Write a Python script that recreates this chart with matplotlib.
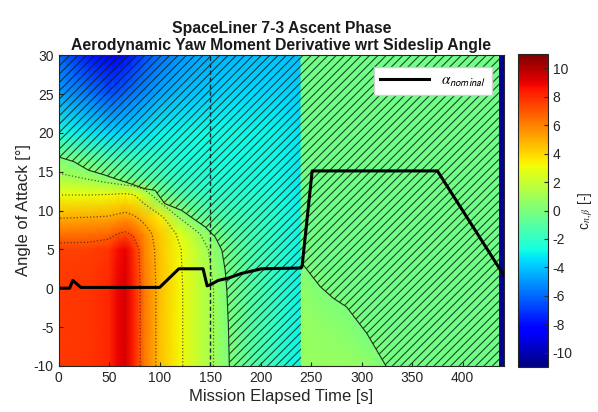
import numpy as np
import matplotlib
matplotlib.use("Agg")
import matplotlib.pyplot as plt
from matplotlib.colors import Normalize

# ---------------- data ----------------
# left part of the field (0 .. 240 s)
t_left = [0, 30, 50, 58, 66, 74, 85, 100, 120, 140, 155, 168, 190, 215, 240]
alpha_grid = [-10, 0, 5, 7, 9, 12, 14, 17, 20, 25, 30]
cn_left = [
    [7.7, 7.8, 8.1, 8.9, 9.3, 8.3, 6.2, 4.6, 3.2, 1.8, 0.9, 0.1, -1.0, -2.0, -3.0],   # -10
    [7.7, 7.8, 8.1, 8.9, 9.3, 8.3, 6.2, 4.6, 3.2, 1.8, 0.9, -0.15, -1.1, -2.0, -3.0],  # 0
    [7.5, 7.5, 7.8, 8.6, 9.0, 8.0, 6.0, 4.5, 3.1, 1.6, 0.5, -0.5, -1.3, -2.1, -3.0],  # 5
    [6.3, 6.4, 6.6, 7.0, 7.2, 6.8, 5.7, 4.3, 2.7, 1.0, -0.1, -0.9, -1.5, -2.2, -3.0], # 7
    [5.0, 5.1, 5.2, 5.4, 5.6, 5.3, 4.6, 3.6, 1.0, -0.5, -1.0, -1.4, -1.8, -2.3, -3.0],# 9
    [3.0, 3.0, 3.1, 3.2, 3.3, 3.1, 2.0, -0.1, -1.2, -1.8, -2.0, -2.1, -2.3, -2.6, -3.1],  # 12
    [1.4, 1.0, 0.4, 0.1, -0.3, -0.5, -1.0, -1.3, -2.0, -2.3, -2.4, -2.5, -2.6, -2.8, -3.2],  # 14
    [-0.1, -0.9, -1.5, -1.7, -1.8, -1.9, -2.0, -2.2, -2.5, -2.6, -2.7, -2.7, -2.8, -2.9, -3.2],  # 17
    [-2.6, -3.2, -3.6, -3.6, -3.6, -3.5, -3.3, -3.0, -2.9, -2.8, -2.8, -2.8, -2.9, -3.0, -3.3],  # 20
    [-4.8, -5.6, -6.4, -6.3, -6.0, -5.6, -5.2, -4.6, -4.2, -3.9, -3.7, -3.6, -3.6, -3.6, -3.7],  # 25
    [-6.0, -7.8, -8.6, -8.4, -8.0, -7.4, -6.6, -5.8, -5.0, -4.6, -4.4, -4.3, -4.2, -4.1, -4.1],  # 30
]

# right part of the field (240 .. 441 s)
t_right = [240, 262, 285, 305, 330, 436, 436.5, 441]
alpha_right = [-10, -5, 0, 3, 10, 30]
cn_right = [
    [0.7, 0.7, 0.7, 0.6, -0.2, -0.3, -10.5, -10.5],
    [0.7, 0.6, 0.3, -0.2, -0.3, -0.3, -10.5, -10.5],
    [0.6, 0.0, -0.3, -0.3, -0.3, -0.3, -10.5, -10.5],
    [0.0, -0.3, -0.3, -0.3, -0.3, -0.3, -10.5, -10.5],
    [-0.3, -0.3, -0.3, -0.3, -0.3, -0.3, -10.5, -10.5],
    [-0.3, -0.3, -0.3, -0.3, -0.3, -0.3, -10.5, -10.5],
]

# stability boundary (c_n,beta = 0)
bound_t_left = [0, 15, 29.5, 45, 56, 70, 85.6, 95.5, 105, 122, 135, 145, 155, 161.6, 164.9, 166.5, 168, 169]
bound_a_left = [16.9, 16.3, 15.2, 14.6, 14.1, 13.5, 12.8, 12.6, 10.9, 10.0, 8.8, 7.9, 6.6, 4.9, 2.3, -0.2, -4.5, -10]
bound_t_right = [241, 259, 272, 285, 305, 324]
bound_a_right = [3.2, 0.2, -1.3, -2.4, -5.8, -10]

# nominal angle of attack trajectory
traj_t = [0, 11, 14, 22, 100, 119, 143, 147, 151, 158, 168, 181, 201, 240, 241, 251, 375, 441]
traj_a = [0, 0, 1.0, 0.1, 0.1, 2.5, 2.5, 0.3, 0.5, 1.0, 1.3, 1.9, 2.5, 2.6, 2.8, 15.1, 15.1, 1.6]

t_marker = 150
contour_levels = [1, 3, 5, 7]
cbar_ticks = list(range(-10, 11, 2))

# ---------------- plot ----------------
plt.rcParams['font.family'] = ['Liberation Sans', 'DejaVu Sans']
plt.rcParams['mathtext.fontset'] = 'stix'
plt.rcParams['hatch.linewidth'] = 0.8
plt.rcParams['axes.unicode_minus'] = False

fig = plt.figure(figsize=(5.98, 4.12), dpi=100)
ax = fig.add_axes([0.098, 0.112, 0.745, 0.754])
cax = fig.add_axes([0.866, 0.109, 0.050, 0.760])

norm = Normalize(vmin=-11, vmax=11)
cmap = plt.get_cmap('jet')

TL, AL = np.meshgrid(t_left, alpha_grid)
VL = np.array(cn_left)
m = ax.pcolormesh(TL, AL, VL, shading='gouraud', cmap=cmap, norm=norm)
TR, AR = np.meshgrid(t_right, alpha_right)
ax.pcolormesh(TR, AR, np.array(cn_right), shading='gouraud', cmap=cmap, norm=norm)

ax.contour(TL, AL, VL, levels=contour_levels, colors='#202020',
           linestyles=':', linewidths=0.9, alpha=0.7)

# hatched (unstable) regions
hcol = (0.05, 0.12, 0.08, 0.82)
hx = list(bound_t_left) + [240, 240, 0]
hy = list(bound_a_left) + [-10, 30, 30]
ax.fill(hx, hy, facecolor='none', edgecolor=hcol, hatch='////', linewidth=0)
hx2 = [240] + list(bound_t_right) + [436.5, 436.5, 240]
hy2 = [bound_a_right[0]] + list(bound_a_right) + [-10, 30, 30]
ax.fill(hx2, hy2, facecolor='none', edgecolor=hcol, hatch='////', linewidth=0)

ax.plot(bound_t_left, bound_a_left, color='#1e321e', lw=0.8)
ax.plot(bound_t_right, bound_a_right, color='#1e321e', lw=0.8)
ax.axvline(t_marker, color='#1a2a2a', lw=1.0, ls=(0, (3, 2)))

ax.plot(traj_t, traj_a, color='k', lw=2.2, label=r'$\alpha_{\mathsf{nominal}}$')

ax.set_xlim(0, 441)
ax.set_ylim(-10, 30)
ax.set_xticks(range(0, 401, 50))
ax.set_yticks(range(-10, 31, 5))
ax.tick_params(direction='in', labelsize=10, colors='#262626', length=3)
for s in ax.spines.values():
    s.set_color('#262626')
ax.set_xlabel('Mission Elapsed Time [s]', fontsize=12, color='#262626', labelpad=3)
ax.set_ylabel('Angle of Attack [°]', fontsize=12, color='#262626', labelpad=2)
ax.set_title('SpaceLiner 7-3 Ascent Phase\nAerodynamic Yaw Moment Derivative wrt Sideslip Angle',
             fontsize=11.3, fontweight='bold', color='#1a1a1a', pad=4, linespacing=1.15)

leg = ax.legend(loc='upper right', fontsize=11, frameon=True, fancybox=False,
                framealpha=1, edgecolor='#d0d0d0', handlelength=3.2, borderaxespad=0.8)

cb = fig.colorbar(m, cax=cax, ticks=cbar_ticks)
cb.outline.set_edgecolor('#262626')
cax.tick_params(direction='in', labelsize=10, colors='#262626', length=3)
cb.set_label(r'c$_{n,\beta}$ [-]', fontsize=10, color='#262626', labelpad=3)

fig.savefig('out.png', dpi=100)
